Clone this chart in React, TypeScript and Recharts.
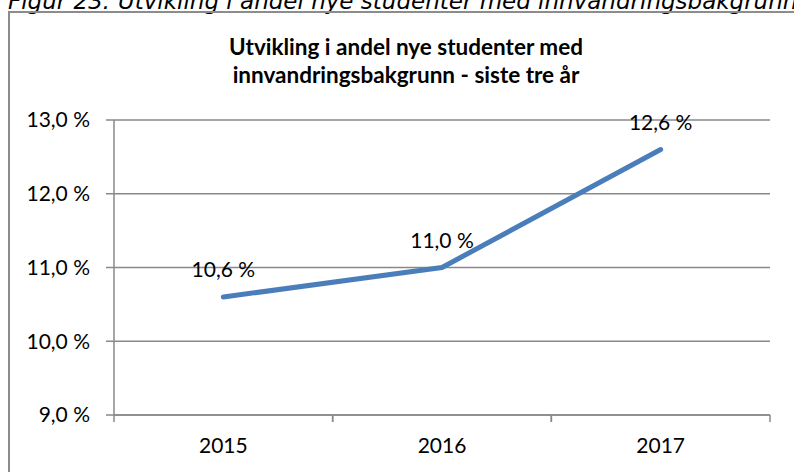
import React from 'react';
import { LineChart, Line, XAxis, YAxis, CartesianGrid, LabelList } from 'recharts';

const years = ['2015', '2016', '2017'];
const shares = [10.6, 11.0, 12.6];
const yTicks = [9, 10, 11, 12, 13];

const data = years.map((year, i) => ({ year, share: shares[i] }));

const pct = (v: number) => v.toFixed(1).replace('.', ',') + ' %';

const gridColor = '#898989';
const chartFont = 'Lato, "Open Sans", sans-serif';

// category label in the middle, tick marks on the band edges (like Excel)
const YearTick = (props: any) => {
  const { x, y, payload, width, visibleTicksCount } = props;
  const half = Number(width) / (visibleTicksCount || years.length) / 2;
  return (
    <g>
      <line x1={x - half} y1={y} x2={x - half} y2={y + 7} stroke={gridColor} strokeWidth={1.5} />
      <line x1={x + half} y1={y} x2={x + half} y2={y + 7} stroke={gridColor} strokeWidth={1.5} />
      <text x={x} y={y + 38} textAnchor="middle" fontFamily={chartFont} fontSize={21} fill="#000">
        {payload.value}
      </text>
    </g>
  );
};

export default function App() {
  return (
    <div style={{ position: 'fixed', left: 0, top: 0, width: 794, height: 472, overflow: 'hidden', background: '#fff' }}>
      <div
        style={{
          position: 'absolute', left: 8, top: -10, whiteSpace: 'nowrap',
          fontFamily: '"DejaVu Sans", sans-serif', fontStyle: 'italic', fontSize: 23, lineHeight: '23px', color: '#000',
        }}
      >
        Figur 23: Utvikling i andel nye studenter med innvandringsbakgrunn
      </div>
      <div
        style={{
          position: 'absolute', left: 8, top: 11, width: 792, height: 500,
          border: '2px solid #8c8c8c', boxSizing: 'content-box',
        }}
      />
      <div
        style={{
          position: 'absolute', left: 8, top: 33, width: 796, textAlign: 'center',
          fontFamily: chartFont, fontWeight: 700, fontSize: 22.5, lineHeight: '28px', color: '#000',
        }}
      >
        Utvikling i andel nye studenter med
        <br />
        innvandringsbakgrunn - siste tre år
      </div>
      <div style={{ position: 'absolute', left: 0, top: 0 }}>
        <LineChart width={794} height={472} data={data} margin={{ top: 120, right: 24, bottom: 27, left: 0 }}>
          <CartesianGrid horizontal vertical={false} stroke={gridColor} strokeWidth={1.5} />
          <XAxis
            dataKey="year"
            scale="band"
            height={30}
            axisLine={{ stroke: gridColor, strokeWidth: 1.5 }}
            tickLine={false}
            tickSize={0}
            tickMargin={0}
            tick={<YearTick />}
            interval={0}
          />
          <YAxis
            width={114}
            domain={[9, 13]}
            ticks={yTicks}
            tickFormatter={pct}
            axisLine={{ stroke: gridColor, strokeWidth: 1.5 }}
            tickLine={{ stroke: gridColor, strokeWidth: 1.5 }}
            tickSize={8}
            tickMargin={16}
            tick={{ fontFamily: chartFont, fontSize: 21, fill: '#000' }}
          />
          <Line
            dataKey="share"
            stroke="#4a7ebb"
            strokeWidth={5}
            strokeLinecap="round"
            strokeLinejoin="round"
            dot={false}
            isAnimationActive={false}
          >
            <LabelList
              dataKey="share"
              position="top"
              offset={20}
              formatter={(v: any) => pct(Number(v))}
              style={{ fontFamily: chartFont, fontSize: 21, fill: '#000' }}
            />
          </Line>
        </LineChart>
      </div>
    </div>
  );
}
